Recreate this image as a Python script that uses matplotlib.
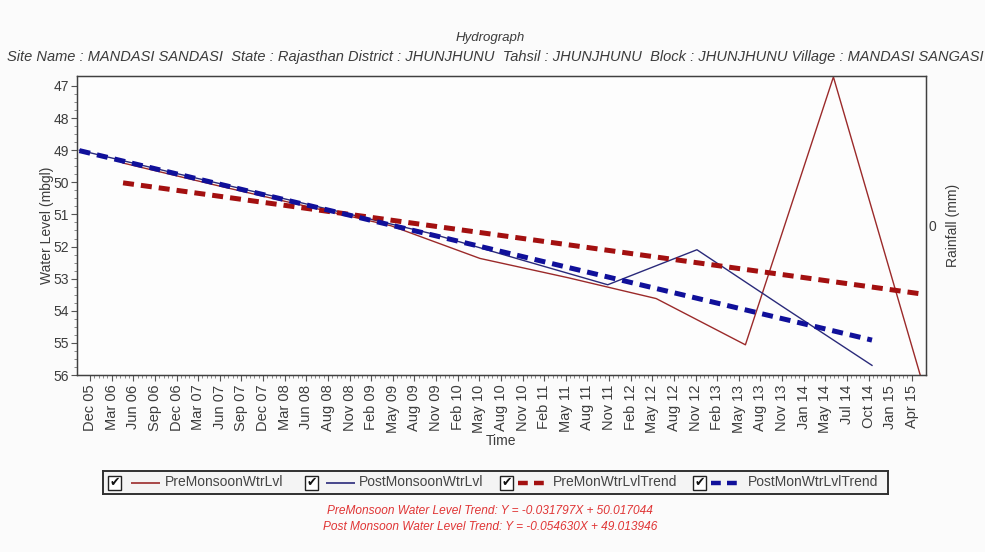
"""
Hydrograph for MANDASI SANDASI: pre/post monsoon water levels with trend lines.
Writes out.png
"""

import numpy as np
import pandas as pd
import matplotlib
matplotlib.use("Agg")
import matplotlib.pyplot as plt
from matplotlib.patches import Rectangle

plt.rcParams["font.family"] = ["Liberation Sans", "DejaVu Sans"]

# ---- data ----
pre_dates = ["2006-05-01", "2007-05-15", "2008-05-15", "2009-05-15", "2010-05-20",
             "2011-05-20", "2012-05-20", "2013-05-25", "2014-05-25", "2015-05-20"]
pre_level = [49.40, 50.08, 50.72, 51.35, 52.37, 52.97, 53.62, 55.06, 46.72, 56.0]

post_dates = ["2005-11-01", "2006-11-01", "2007-11-01", "2008-11-01", "2009-11-01",
              "2010-11-01", "2011-11-01", "2012-11-05", "2013-11-01", "2014-11-01"]
post_level = [49.00, 49.66, 50.30, 50.95, 51.60, 52.40, 53.19, 52.10, 53.90, 55.70]

# trend equations printed under the chart (X in months since first reading)
PRE_SLOPE, PRE_ICPT = 0.031797, 50.017044
POST_SLOPE, POST_ICPT = 0.054630, 49.013946

tick_labels = ["Dec 05", "Mar 06", "Jun 06", "Sep 06", "Dec 06", "Mar 07", "Jun 07",
               "Sep 07", "Dec 07", "Mar 08", "Jun 08", "Aug 08", "Nov 08", "Feb 09",
               "May 09", "Aug 09", "Nov 09", "Feb 10", "May 10", "Aug 10", "Nov 10",
               "Feb 11", "May 11", "Aug 11", "Nov 11", "Feb 12", "May 12", "Aug 12",
               "Nov 12", "Feb 13", "May 13", "Aug 13", "Nov 13", "Jan 14", "May 14",
               "Jul 14", "Oct 14", "Jan 15", "Apr 15"]

series_cfg = {
    "PreMonsoonWtrLvl":  {"color": "#9b2a2a", "lw": 1.0, "ls": "-"},
    "PostMonsoonWtrLvl": {"color": "#2a2a7a", "lw": 1.0, "ls": "-"},
    "PreMonWtrLvlTrend": {"color": "#a31010", "lw": 3.6, "ls": (0, (2.2, 1.4))},
    "PostMonWtrLvlTrend": {"color": "#10109a", "lw": 3.6, "ls": (0, (2.2, 1.4))},
}

TXT = "#3c3c3c"


def trend(dates, slope, icpt):
    d = pd.to_datetime(dates)
    ends = pd.DatetimeIndex([d[0], d[-1]])
    months = (ends - d[0]).days / 30.4375
    return ends, icpt + slope * np.asarray(months)


fig = plt.figure(figsize=(9.85, 5.52), dpi=100, facecolor="#fbfbfb")
ax = fig.add_axes([77 / 985, 1 - 375 / 552, 849 / 985, 299 / 552])
ax.set_facecolor("#fdfdfd")

pre_x = pd.to_datetime(pre_dates)
post_x = pd.to_datetime(post_dates)
ax.plot(pre_x, pre_level, color=series_cfg["PreMonsoonWtrLvl"]["color"], lw=1.0)
ax.plot(post_x, post_level, color=series_cfg["PostMonsoonWtrLvl"]["color"], lw=1.0)

tx, ty = trend(pre_dates, PRE_SLOPE, PRE_ICPT)
c = series_cfg["PreMonWtrLvlTrend"]
ax.plot(tx, ty, color=c["color"], lw=c["lw"], ls=c["ls"], dash_capstyle="butt")
tx, ty = trend(post_dates, POST_SLOPE, POST_ICPT)
c = series_cfg["PostMonWtrLvlTrend"]
ax.plot(tx, ty, color=c["color"], lw=c["lw"], ls=c["ls"], dash_capstyle="butt")

# axes limits / ticks
ticks = pd.date_range("2005-12-15", "2015-04-15", periods=len(tick_labels))
ax.set_xlim(pd.Timestamp("2005-10-22"), pd.Timestamp("2015-06-13"))
ax.set_xticks(ticks)
ax.set_xticklabels(tick_labels, rotation=90, fontsize=10.5, color=TXT)
step = (ticks[1] - ticks[0]) / 5
minor = pd.date_range(ticks[0], ticks[-1], freq=step)
ax.set_xticks(minor, minor=True)

ax.set_ylim(56.0, 46.69)
ax.set_yticks(np.arange(47, 57, 1))
ax.set_yticklabels([str(v) for v in range(47, 57)], fontsize=10, color=TXT)
ax.set_yticks(np.arange(47, 56.01, 0.25), minor=True)
ax.tick_params(axis="both", which="major", length=4, width=0.8, colors="#555555",
               labelcolor=TXT)
ax.tick_params(axis="x", which="major", pad=3)
ax.tick_params(axis="y", which="major", pad=2)
ax.tick_params(axis="both", which="minor", length=2, width=0.6, colors="#777777")
for s in ax.spines.values():
    s.set_color("#404040")
    s.set_linewidth(1.0)

ax.set_ylabel("Water Level (mbgl)", fontsize=10, color=TXT, labelpad=-1)
ax.set_xlabel("Time", fontsize=10, color=TXT, labelpad=1)

# rainfall axis on the right (no rainfall data)
ax2 = ax.twinx()
ax2.set_ylim(-1, 1)
ax2.set_yticks([0])
ax2.set_yticklabels(["0"], fontsize=10, color=TXT)
ax2.tick_params(axis="y", length=0, colors="#555555", labelcolor=TXT, pad=2)
ax2.set_ylabel("Rainfall (mm)", fontsize=10, color=TXT, labelpad=7)
for s in ax2.spines.values():
    s.set_color("#404040")

# titles
fig.text(490 / 985, 1 - 38 / 552, "Hydrograph", ha="center", va="center",
         fontsize=9.5, style="italic", color=TXT)
fig.text(495 / 985, 1 - 57 / 552,
         "Site Name : MANDASI SANDASI  State : Rajasthan District : JHUNJHUNU  "
         "Tahsil : JHUNJHUNU  Block : JHUNJHUNU Village : MANDASI SANGASI",
         ha="center", va="center", fontsize=10.5, style="italic", color=TXT)

# legend box drawn by hand (checkbox + sample + label)
lax = fig.add_axes([103 / 985, 1 - 494 / 552, 785 / 985, 23 / 552])
lax.set_xlim(103, 888)
lax.set_ylim(0, 23)
lax.set_xticks([])
lax.set_yticks([])
lax.set_facecolor("#f4f4f4")
for s in lax.spines.values():
    s.set_color("#303030")
    s.set_linewidth(1.4)

entries = [("PreMonsoonWtrLvl", 108, 131, 160, 165),
           ("PostMonsoonWtrLvl", 305, 326, 355, 359),
           ("PreMonWtrLvlTrend", 500, 518, 547, 553),
           ("PostMonWtrLvlTrend", 693, 711, 742, 748)]
for name, cb, l0, l1, tx0 in entries:
    c = series_cfg[name]
    lax.add_patch(Rectangle((cb, 4.5), 13, 14, facecolor="white",
                            edgecolor="#222222", lw=1.0))
    lax.text(cb + 6.5, 11.3, "\u2714", ha="center", va="center", fontsize=9,
             color="#111111", family="DejaVu Sans")
    lax.plot([l0, l1], [11.5, 11.5], color=c["color"],
             lw=1.2 if c["lw"] < 2 else 3.2,
             ls="-" if c["lw"] < 2 else (0, (2.2, 1.4)), solid_capstyle="butt",
             dash_capstyle="butt")
    lax.text(tx0, 11.5, name, ha="left", va="center", fontsize=10, color="#444444")

# trend equations
fig.text(490 / 985, 1 - 511 / 552,
         "PreMonsoon Water Level Trend: Y = -0.031797X + 50.017044",
         ha="center", va="center", fontsize=8.6, style="italic", color="#e03535")
fig.text(490 / 985, 1 - 527 / 552,
         "Post Monsoon Water Level Trend: Y = -0.054630X + 49.013946",
         ha="center", va="center", fontsize=8.6, style="italic", color="#e03535")

fig.savefig("out.png", dpi=100, facecolor=fig.get_facecolor())
